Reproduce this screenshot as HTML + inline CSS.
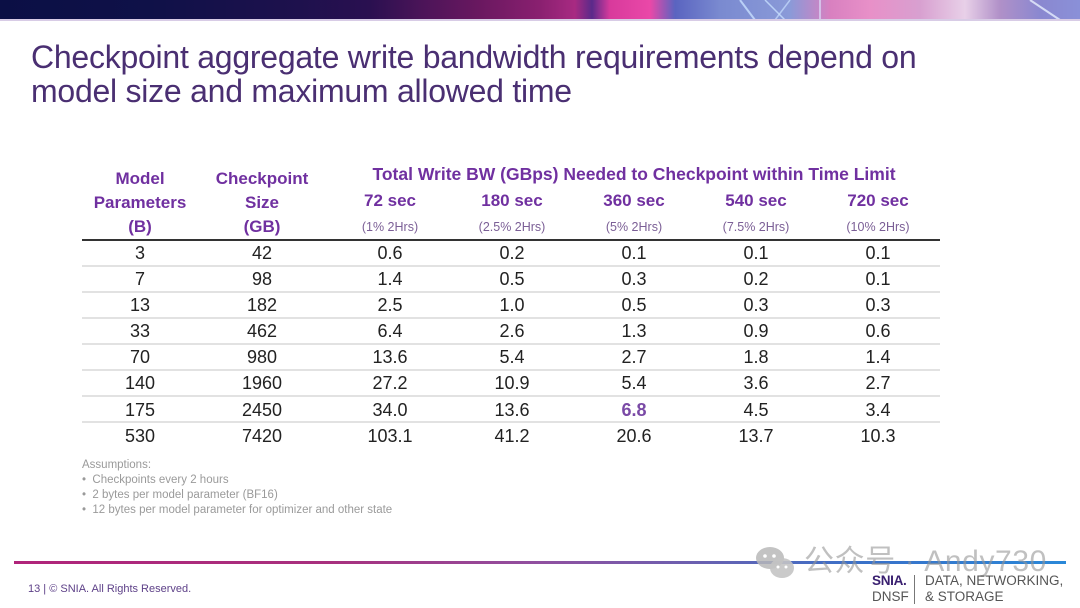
<!DOCTYPE html>
<html><head><meta charset="utf-8">
<style>
*{margin:0;padding:0;box-sizing:border-box}
body{width:1080px;height:608px;background:#fff;position:relative;overflow:hidden;font-family:"Liberation Sans",Arial,sans-serif}
.a{position:absolute;white-space:nowrap}
.c{position:absolute;width:140px;text-align:center;white-space:nowrap}
.h{font-weight:bold;color:#7030a0;font-size:17px;line-height:20px;height:20px}
.s{color:#7b5f96;font-size:12.5px;line-height:16px;height:16px}
.n{color:#222;font-size:18px;line-height:22px;height:22px}
.ln{position:absolute;left:82px;width:858px;height:2px;background:#e2e2e2}
</style></head><body>
<!-- banner -->
<div class="a" style="left:0;top:0;width:1080px;height:20px;background:linear-gradient(90deg,#0b0f45 0px,#0f1148 150px,#1e114d 300px,#2a1050 370px,#4a1458 420px,#6a1860 480px,#8a2070 540px,#a82a82 575px,#5a2a8a 592px,#d83a9c 610px,#ea48a8 650px,#5a64c0 675px,#7a8ad0 720px,#8a9ad8 790px,#d880c0 830px,#e890c8 870px,#d8a0d0 920px,#e8d0e8 965px,#b090c8 1000px,#8a88d0 1040px,#8a90d8 1080px)"></div>
<svg class="a" style="left:0;top:0" width="1080" height="21">
<line x1="740" y1="0" x2="755" y2="20" stroke="#c8e0ff" stroke-width="2" opacity=".8"/>
<line x1="765" y1="0" x2="785" y2="20" stroke="#c8e0ff" stroke-width="1.5" opacity=".8"/>
<line x1="775" y1="20" x2="790" y2="0" stroke="#c8e0ff" stroke-width="1.5" opacity=".7"/>
<line x1="820" y1="0" x2="820" y2="20" stroke="#e0e8ff" stroke-width="1.5" opacity=".8"/>
<line x1="1030" y1="0" x2="1060" y2="20" stroke="#e8f0ff" stroke-width="2" opacity=".8"/>
<rect x="0" y="19" width="1080" height="2" fill="#d8cce6"/>
</svg>
<!-- title -->
<div class="a" style="left:31px;top:40px;font-size:32px;line-height:34px;letter-spacing:-0.25px;color:#4a2f72">Checkpoint aggregate write bandwidth requirements depend on<br>model size and maximum allowed time</div>

<!-- headers -->
<div class="c h" style="left:70px;top:169px">Model</div>
<div class="c h" style="left:70px;top:193px">Parameters</div>
<div class="c h" style="left:70px;top:217px">(B)</div>
<div class="c h" style="left:192px;top:169px">Checkpoint</div>
<div class="c h" style="left:192px;top:193px">Size</div>
<div class="c h" style="left:192px;top:217px">(GB)</div>
<div class="a h" style="left:350px;width:568px;text-align:center;top:164px;font-size:17.5px">Total Write BW (GBps) Needed to Checkpoint within Time Limit</div>
<div class="c h" style="left:320px;top:191px">72 sec</div>
<div class="c h" style="left:442px;top:191px">180 sec</div>
<div class="c h" style="left:564px;top:191px">360 sec</div>
<div class="c h" style="left:686px;top:191px">540 sec</div>
<div class="c h" style="left:808px;top:191px">720 sec</div>
<div class="c s" style="left:320px;top:219px">(1% 2Hrs)</div>
<div class="c s" style="left:442px;top:219px">(2.5% 2Hrs)</div>
<div class="c s" style="left:564px;top:219px">(5% 2Hrs)</div>
<div class="c s" style="left:686px;top:219px">(7.5% 2Hrs)</div>
<div class="c s" style="left:808px;top:219px">(10% 2Hrs)</div>

<div class="a" style="left:82px;top:239px;width:858px;height:1.5px;background:#333"></div>
<div class="ln" style="top:265px"></div>
<div class="ln" style="top:291px"></div>
<div class="ln" style="top:317px"></div>
<div class="ln" style="top:343px"></div>
<div class="ln" style="top:369px"></div>
<div class="ln" style="top:395px"></div>
<div class="ln" style="top:421px"></div>

<!-- rows -->
<div class="c n" style="left:70px;top:242px">3</div><div class="c n" style="left:192px;top:242px">42</div><div class="c n" style="left:320px;top:242px">0.6</div><div class="c n" style="left:442px;top:242px">0.2</div><div class="c n" style="left:564px;top:242px">0.1</div><div class="c n" style="left:686px;top:242px">0.1</div><div class="c n" style="left:808px;top:242px">0.1</div>
<div class="c n" style="left:70px;top:268px">7</div><div class="c n" style="left:192px;top:268px">98</div><div class="c n" style="left:320px;top:268px">1.4</div><div class="c n" style="left:442px;top:268px">0.5</div><div class="c n" style="left:564px;top:268px">0.3</div><div class="c n" style="left:686px;top:268px">0.2</div><div class="c n" style="left:808px;top:268px">0.1</div>
<div class="c n" style="left:70px;top:294px">13</div><div class="c n" style="left:192px;top:294px">182</div><div class="c n" style="left:320px;top:294px">2.5</div><div class="c n" style="left:442px;top:294px">1.0</div><div class="c n" style="left:564px;top:294px">0.5</div><div class="c n" style="left:686px;top:294px">0.3</div><div class="c n" style="left:808px;top:294px">0.3</div>
<div class="c n" style="left:70px;top:320px">33</div><div class="c n" style="left:192px;top:320px">462</div><div class="c n" style="left:320px;top:320px">6.4</div><div class="c n" style="left:442px;top:320px">2.6</div><div class="c n" style="left:564px;top:320px">1.3</div><div class="c n" style="left:686px;top:320px">0.9</div><div class="c n" style="left:808px;top:320px">0.6</div>
<div class="c n" style="left:70px;top:346px">70</div><div class="c n" style="left:192px;top:346px">980</div><div class="c n" style="left:320px;top:346px">13.6</div><div class="c n" style="left:442px;top:346px">5.4</div><div class="c n" style="left:564px;top:346px">2.7</div><div class="c n" style="left:686px;top:346px">1.8</div><div class="c n" style="left:808px;top:346px">1.4</div>
<div class="c n" style="left:70px;top:372px">140</div><div class="c n" style="left:192px;top:372px">1960</div><div class="c n" style="left:320px;top:372px">27.2</div><div class="c n" style="left:442px;top:372px">10.9</div><div class="c n" style="left:564px;top:372px">5.4</div><div class="c n" style="left:686px;top:372px">3.6</div><div class="c n" style="left:808px;top:372px">2.7</div>
<div class="c n" style="left:70px;top:399px">175</div><div class="c n" style="left:192px;top:399px">2450</div><div class="c n" style="left:320px;top:399px">34.0</div><div class="c n" style="left:442px;top:399px">13.6</div><div class="c n" style="left:564px;top:399px;color:#7a4aa6;font-weight:bold">6.8</div><div class="c n" style="left:686px;top:399px">4.5</div><div class="c n" style="left:808px;top:399px">3.4</div>
<div class="c n" style="left:70px;top:425px">530</div><div class="c n" style="left:192px;top:425px">7420</div><div class="c n" style="left:320px;top:425px">103.1</div><div class="c n" style="left:442px;top:425px">41.2</div><div class="c n" style="left:564px;top:425px">20.6</div><div class="c n" style="left:686px;top:425px">13.7</div><div class="c n" style="left:808px;top:425px">10.3</div>

<!-- assumptions -->
<div class="a" style="left:82px;top:458px;font-size:11.5px;line-height:15px;color:#9a9a9a">Assumptions:<br>&bull;&nbsp; Checkpoints every 2 hours<br>&bull;&nbsp; 2 bytes per model parameter (BF16)<br>&bull;&nbsp; 12 bytes per model parameter for optimizer and other state</div>

<!-- footer line -->
<div class="a" style="left:14px;top:561px;width:1052px;height:3px;background:linear-gradient(90deg,#b0247a 0%,#a8307e 30%,#9050a0 50%,#6a60b0 65%,#3a70c8 80%,#2a88d8 100%)"></div>

<!-- watermark -->
<svg class="a" style="left:755px;top:546px" width="44" height="36">
<ellipse cx="15" cy="12" rx="14" ry="11" fill="#b8b8b8" opacity=".85"/>
<ellipse cx="27" cy="22" rx="12" ry="10" fill="#c4c4c4" opacity=".9"/>
<circle cx="10" cy="10" r="1.8" fill="#fff"/><circle cx="19" cy="10" r="1.8" fill="#fff"/>
<circle cx="23" cy="21" r="1.5" fill="#fff"/><circle cx="31" cy="21" r="1.5" fill="#fff"/>
</svg>
<div class="a" style="left:804px;top:545px;font-size:30px;line-height:34px;letter-spacing:0.6px;color:rgba(150,150,150,0.6);font-family:'Liberation Sans','Noto Sans CJK SC',sans-serif">公众号 · Andy730</div>

<!-- logo -->
<div class="a" style="left:872px;top:573px;font-size:13.5px;line-height:16px;color:#3a2070;font-weight:bold;letter-spacing:-0.3px">SNIA.</div>
<div class="a" style="left:872px;top:589px;font-size:13.5px;line-height:16px;color:#555">DNSF</div>
<div class="a" style="left:914px;top:575px;width:1px;height:29px;background:#777"></div>
<div class="a" style="left:925px;top:573px;font-size:13.5px;line-height:16px;color:#555">DATA, NETWORKING,</div>
<div class="a" style="left:925px;top:589px;font-size:13.5px;line-height:16px;color:#555">&amp; STORAGE</div>

<div class="a" style="left:28px;top:582px;font-size:11px;line-height:14px;color:#5e4188">13 | © SNIA. All Rights Reserved.</div>
</body></html>
